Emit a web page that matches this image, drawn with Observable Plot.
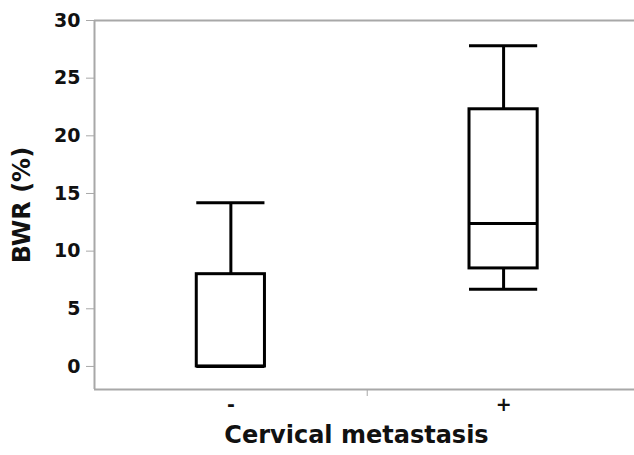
<!DOCTYPE html>
<html>
<head>
<meta charset="utf-8">
<script src="https://cdn.jsdelivr.net/npm/d3@7"></script>
<script src="https://cdn.jsdelivr.net/npm/@observablehq/plot@0.6"></script>
<style>
  html, body { margin: 0; padding: 0; background: #fff; }
</style>
</head>
<body>
<div id="chart"></div>
<script>
// Data
const groups = ["-", "+"];
const groupPos = [1, 2];
const minV = [0, 6.7];
const q1 = [0, 8.5];
const median = [0, 12.4];
const q3 = [8.0, 22.3];
const maxV = [14.2, 27.8];
const yTicks = [0, 5, 10, 15, 20, 25, 30];

const yDomain = [-2, 30];
const xDomain = [0.5, 2.48];
const half = 0.125;

const rows = groups.map((g, i) => ({
  g, pos: groupPos[i], min: minV[i], q1: q1[i], med: median[i], q3: q3[i], max: maxV[i]
}));
const mid = d3.mean(groupPos);
const axisColor = "#a8a8a8";

const chart = Plot.plot({
  width: 634,
  height: 455,
  marginLeft: 94,
  marginRight: 0,
  marginTop: 20,
  marginBottom: 66,
  style: { fontFamily: "DejaVu Sans", fontWeight: "bold", background: "#fff", color: "#111" },
  x: { domain: xDomain, axis: null },
  y: { domain: yDomain, axis: null },
  marks: [
    Plot.ruleY([yDomain[1]], { stroke: axisColor, strokeWidth: 2 }),
    Plot.ruleY([yDomain[0]], { stroke: axisColor, strokeWidth: 2 }),
    Plot.ruleX([xDomain[0]], { stroke: axisColor, strokeWidth: 2 }),
    Plot.axisY({ ticks: yTicks, tickSize: 8, tickPadding: 6, stroke: axisColor, fill: "#111", fontSize: 19, label: null }),
    Plot.axisX({ ticks: groupPos, tickSize: 0, tickPadding: 8, tickFormat: (d) => groups[groupPos.indexOf(d)], fill: "#111", fontSize: 19, label: null }),
    Plot.axisX({ ticks: [mid], tickSize: 7, tickFormat: () => "", stroke: axisColor, label: null }),
    // whiskers
    Plot.ruleX(rows, { x: "pos", y1: "q3", y2: "max", stroke: "#000", strokeWidth: 3 }),
    Plot.ruleX(rows, { x: "pos", y1: "min", y2: "q1", stroke: "#000", strokeWidth: 3 }),
    // caps
    Plot.ruleY(rows, { y: "max", x1: (d) => d.pos - half, x2: (d) => d.pos + half, stroke: "#000", strokeWidth: 3 }),
    Plot.ruleY(rows.filter(d => d.min < d.q1), { y: "min", x1: (d) => d.pos - half, x2: (d) => d.pos + half, stroke: "#000", strokeWidth: 3 }),
    // box
    Plot.rect(rows, { x1: (d) => d.pos - half, x2: (d) => d.pos + half, y1: "q1", y2: "q3", fill: "#fff", stroke: "#000", strokeWidth: 3 }),
    // median
    Plot.ruleY(rows, { y: "med", x1: (d) => d.pos - half, x2: (d) => d.pos + half, stroke: "#000", strokeWidth: 3 }),
    // axis titles
    Plot.text(["BWR (%)"], { frameAnchor: "left", rotate: -90, dx: -72, textAnchor: "middle", lineAnchor: "middle", fontSize: 24, fontWeight: "bold", fill: "#111" }),
    Plot.text(["Cervical metastasis"], { frameAnchor: "bottom", dy: 46, dx: -8, textAnchor: "middle", lineAnchor: "middle", fontSize: 24, fontWeight: "bold", fill: "#111" })
  ]
});
document.getElementById("chart").appendChild(chart);
</script>
</body>
</html>
